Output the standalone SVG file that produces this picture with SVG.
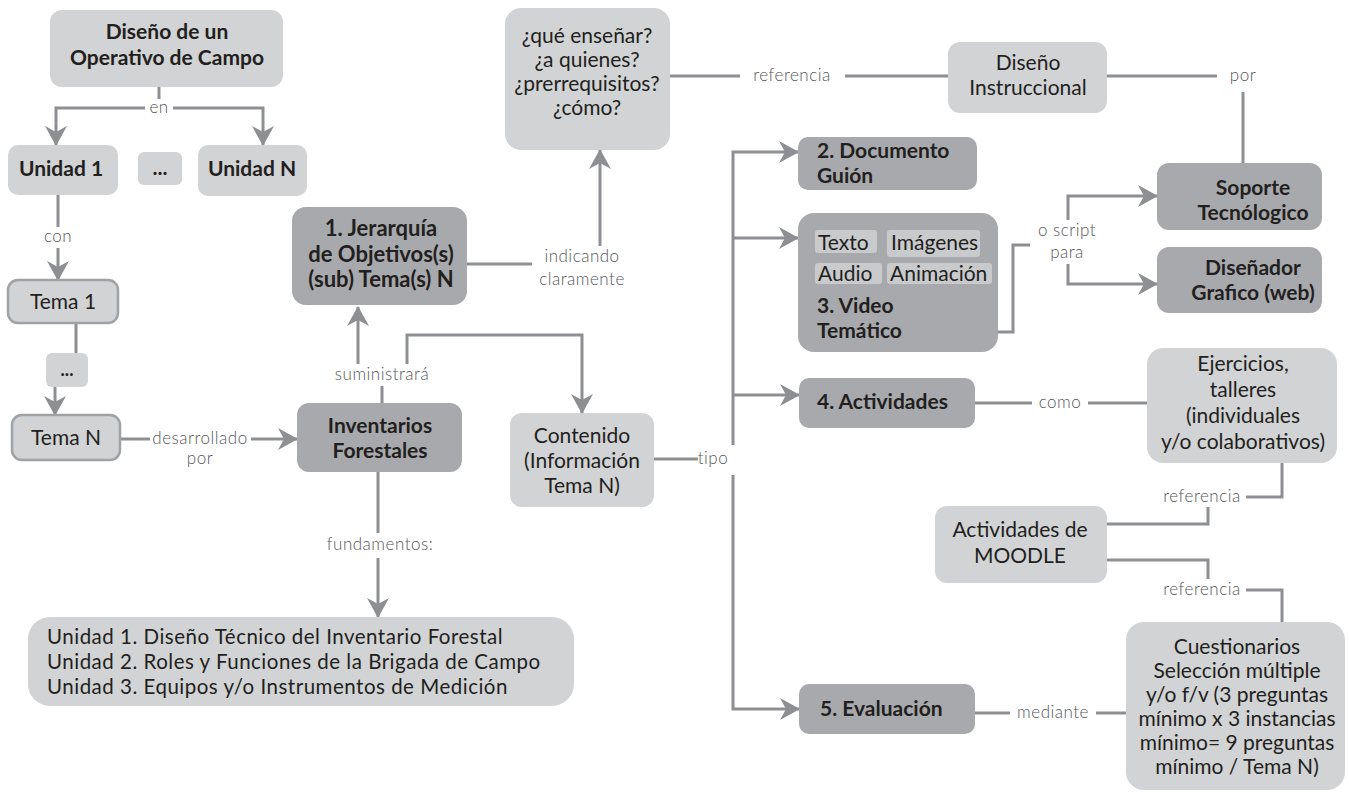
<svg xmlns="http://www.w3.org/2000/svg" width="1349" height="797" viewBox="0 0 1349 797">
<defs>
<marker id="ah" viewBox="0 0 20 22" refX="19" refY="11" markerWidth="20" markerHeight="22" markerUnits="userSpaceOnUse" orient="auto">
<path d="M0,0 L20,11 L0,22 L6,11 Z" fill="#8e8f92"/>
</marker>
<style>
.lt{fill:#d1d3d4}
.dk{fill:#a7a9ac}
.chip{fill:#c9cacc}
.bd{stroke:#a0a2a5;stroke-width:2.5}
.t{font-family:Lato,"Liberation Sans",sans-serif;font-size:21px;fill:#231f20}
.b{font-weight:700}
.c{text-anchor:middle}
.big{font-size:22px}
.fd{font-size:20.5px;letter-spacing:0.5px}
.lbl{font-family:Lato,"Liberation Sans",sans-serif;font-weight:300;font-size:17px;fill:#555658;text-anchor:middle;letter-spacing:0.5px}
.ln{fill:none;stroke:#8e8f92;stroke-width:3}
.ar{marker-end:url(#ah)}
</style>
</defs>
<rect width="1349" height="797" fill="#ffffff"/>

<g id="connectors">
<path class="ln" d="M159,87 V99"/>
<path class="ln ar" d="M145,108 H56 V145"/>
<path class="ln ar" d="M173,108 H263 V145"/>
<text class="lbl" x="159" y="113">en</text>
<path class="ln" d="M58,195 V227"/>
<text class="lbl" x="58" y="242">con</text>
<path class="ln ar" d="M58,248 V280"/>
<path class="ln" d="M76,323 V353"/>
<path class="ln ar" d="M55,387 V415"/>
<path class="ln" d="M120,439 H150"/>
<text class="lbl" x="200" y="444">desarrollado</text>
<text class="lbl" x="200" y="464">por</text>
<path class="ln ar" d="M251,439 H297"/>
<path class="ln" d="M382,403 V386"/>
<text class="lbl" x="382" y="380">suministrará</text>
<path class="ln ar" d="M358,364 V307"/>
<path class="ln ar" d="M407,364 V335 H582 V413"/>
<path class="ln" d="M467,264 H532"/>
<text class="lbl" x="582" y="262">indicando</text>
<text class="lbl" x="582" y="285">claramente</text>
<path class="ln ar" d="M600,246 V150"/>
<path class="ln" d="M670,76 H740"/>
<text class="lbl" x="792" y="81">referencia</text>
<path class="ln" d="M845,76 H948"/>
<path class="ln" d="M1107,76 H1217"/>
<text class="lbl" x="1243" y="81">por</text>
<path class="ln" d="M1243,92 V163"/>
<path class="ln" d="M943,293 V332 H1013 V245 H1030"/>
<text class="lbl" x="1067" y="236">o script</text>
<text class="lbl" x="1067" y="258">para</text>
<path class="ln ar" d="M1068,220 V196 H1157"/>
<path class="ln ar" d="M1068,264 V284 H1157"/>
<path class="ln" d="M654,459 H698"/>
<text class="lbl" x="713" y="464">tipo</text>
<path class="ln ar" d="M733,445 V152 H798"/>
<path class="ln ar" d="M733,238 H798"/>
<path class="ln ar" d="M733,395 H799"/>
<path class="ln ar" d="M733,475 V709 H799"/>
<path class="ln" d="M975,403 H1032"/>
<text class="lbl" x="1060" y="408">como</text>
<path class="ln" d="M1088,403 H1147"/>
<path class="ln" d="M1282,463 V497 H1246"/>
<text class="lbl" x="1202" y="502">referencia</text>
<path class="ln" d="M1208,507 V524 H1107"/>
<path class="ln" d="M1107,560 H1208 V579"/>
<text class="lbl" x="1202" y="595">referencia</text>
<path class="ln" d="M1246,590 H1282 V622"/>
<path class="ln" d="M975,713 H1010"/>
<text class="lbl" x="1053" y="718">mediante</text>
<path class="ln" d="M1096,713 H1126"/>
<path class="ln" d="M378,472 V533"/>
<text class="lbl" x="380" y="550">fundamentos:</text>
<path class="ln ar" d="M378,558 V617"/>
</g>

<g id="n-diseno-operativo">
<rect class="lt" x="50" y="10" width="233" height="77" rx="12"/>
<text class="t b c" x="167" y="39">Diseño de un</text>
<text class="t b c" x="167" y="65">Operativo de Campo</text>
</g>
<g id="n-unidad1">
<rect class="lt" x="8" y="145" width="110" height="50" rx="10"/>
<text class="t b c" x="61" y="176">Unidad 1</text>
</g>
<g id="n-dots1">
<rect class="lt" x="138" y="152" width="44" height="33" rx="6"/>
<text class="t b c" x="160" y="175">...</text>
</g>
<g id="n-unidadN">
<rect class="lt" x="198" y="145" width="109" height="51" rx="10"/>
<text class="t b c" x="252" y="176">Unidad N</text>
</g>
<g id="n-tema1">
<rect class="lt bd" x="8" y="280" width="110" height="43" rx="10"/>
<text class="t c" x="63" y="309">Tema 1</text>
</g>
<g id="n-dots2">
<rect class="lt" x="46" y="353" width="42" height="34" rx="6"/>
<text class="t b c" x="67" y="376" style="font-size:18px">...</text>
</g>
<g id="n-temaN">
<rect class="lt bd" x="12" y="415" width="108" height="45" rx="10"/>
<text class="t c" x="66" y="445">Tema N</text>
</g>
<g id="n-inventarios">
<rect class="dk" x="297" y="403" width="165" height="69" rx="12"/>
<text class="t b c" x="380" y="433">Inventarios</text>
<text class="t b c" x="380" y="458">Forestales</text>
</g>
<g id="n-jerarquia">
<rect class="dk" x="292" y="207" width="175" height="98" rx="14"/>
<text class="t b c big" x="381" y="236">1. Jerarquía</text>
<text class="t b c big" x="381" y="262">de Objetivos(s)</text>
<text class="t b c big" x="381" y="287">(sub) Tema(s) N</text>
</g>
<g id="n-contenido">
<rect class="lt" x="510" y="413" width="144" height="94" rx="12"/>
<text class="t c" x="582" y="443">Contenido</text>
<text class="t c" x="582" y="468">(Información</text>
<text class="t c" x="582" y="493">Tema N)</text>
</g>
<g id="n-que">
<rect class="lt" x="505" y="8" width="165" height="142" rx="16"/>
<text class="t c" x="587" y="43">¿qué enseñar?</text>
<text class="t c" x="587" y="67">¿a quienes?</text>
<text class="t c" x="587" y="91">¿prerrequisitos?</text>
<text class="t c" x="587" y="115">¿cómo?</text>
</g>
<g id="n-diseno-instruccional">
<rect class="lt" x="948" y="42" width="159" height="71" rx="12"/>
<text class="t c" x="1028" y="70">Diseño</text>
<text class="t c" x="1028" y="95">Instruccional</text>
</g>
<g id="n-soporte">
<rect class="dk" x="1157" y="163" width="165" height="67" rx="12"/>
<text class="t b c" x="1253" y="195">Soporte</text>
<text class="t b c" x="1253" y="220">Tecnólogico</text>
</g>
<g id="n-disenador">
<rect class="dk" x="1157" y="247" width="165" height="66" rx="12"/>
<text class="t b c" x="1253" y="275">Diseñador</text>
<text class="t b c" x="1253" y="300">Grafico (web)</text>
</g>
<g id="n-documento">
<rect class="dk" x="798" y="137" width="179" height="53" rx="10"/>
<text class="t b" x="817" y="158">2. Documento</text>
<text class="t b" x="817" y="183">Guión</text>
</g>
<g id="n-video">
<rect class="dk" x="798" y="213" width="200" height="139" rx="16"/>
<rect class="chip" x="815" y="230" width="62" height="23" rx="3"/>
<rect class="chip" x="887" y="230" width="93" height="27" rx="3"/>
<rect class="chip" x="815" y="263" width="67" height="21" rx="3"/>
<rect class="chip" x="887" y="263" width="105" height="21" rx="3"/>
<text class="t" x="818" y="250">Texto</text>
<text class="t" x="891" y="250">Imágenes</text>
<text class="t" x="818" y="281">Audio</text>
<text class="t" x="890" y="281">Animación</text>
<text class="t b" x="817" y="313">3. Video</text>
<text class="t b" x="817" y="338">Temático</text>
</g>
<g id="n-actividades">
<rect class="dk" x="799" y="378" width="176" height="50" rx="10"/>
<text class="t b" x="817" y="409">4. Actividades</text>
</g>
<g id="n-ejercicios">
<rect class="lt" x="1147" y="348" width="190" height="115" rx="16"/>
<text class="t c" x="1243" y="371">Ejercicios,</text>
<text class="t c" x="1243" y="397">talleres</text>
<text class="t c" x="1243" y="423">(individuales</text>
<text class="t c" x="1243" y="449">y/o colaborativos)</text>
</g>
<g id="n-moodle">
<rect class="lt" x="935" y="506" width="172" height="77" rx="12"/>
<text class="t c" x="1020" y="537">Actividades de</text>
<text class="t c" x="1020" y="563">MOODLE</text>
</g>
<g id="n-evaluacion">
<rect class="dk" x="799" y="684" width="176" height="50" rx="10"/>
<text class="t b" x="820" y="716">5. Evaluación</text>
</g>
<g id="n-cuestionarios">
<rect class="lt" x="1126" y="622" width="219" height="168" rx="18"/>
<text class="t c" x="1237" y="654">Cuestionarios</text>
<text class="t c" x="1237" y="678">Selección múltiple</text>
<text class="t c" x="1237" y="702">y/o f/v (3 preguntas</text>
<text class="t c" x="1237" y="726">mínimo x 3 instancias</text>
<text class="t c" x="1237" y="750">mínimo= 9 preguntas</text>
<text class="t c" x="1237" y="774">mínimo / Tema N)</text>
</g>
<g id="n-fundamentos">
<rect class="lt" x="28" y="617" width="546" height="89" rx="22"/>
<text class="t fd" x="47" y="644">Unidad 1. Diseño Técnico del Inventario Forestal</text>
<text class="t fd" x="47" y="669">Unidad 2. Roles y Funciones de la Brigada de Campo</text>
<text class="t fd" x="47" y="694">Unidad 3. Equipos y/o Instrumentos de Medición</text>
</g>
</svg>
